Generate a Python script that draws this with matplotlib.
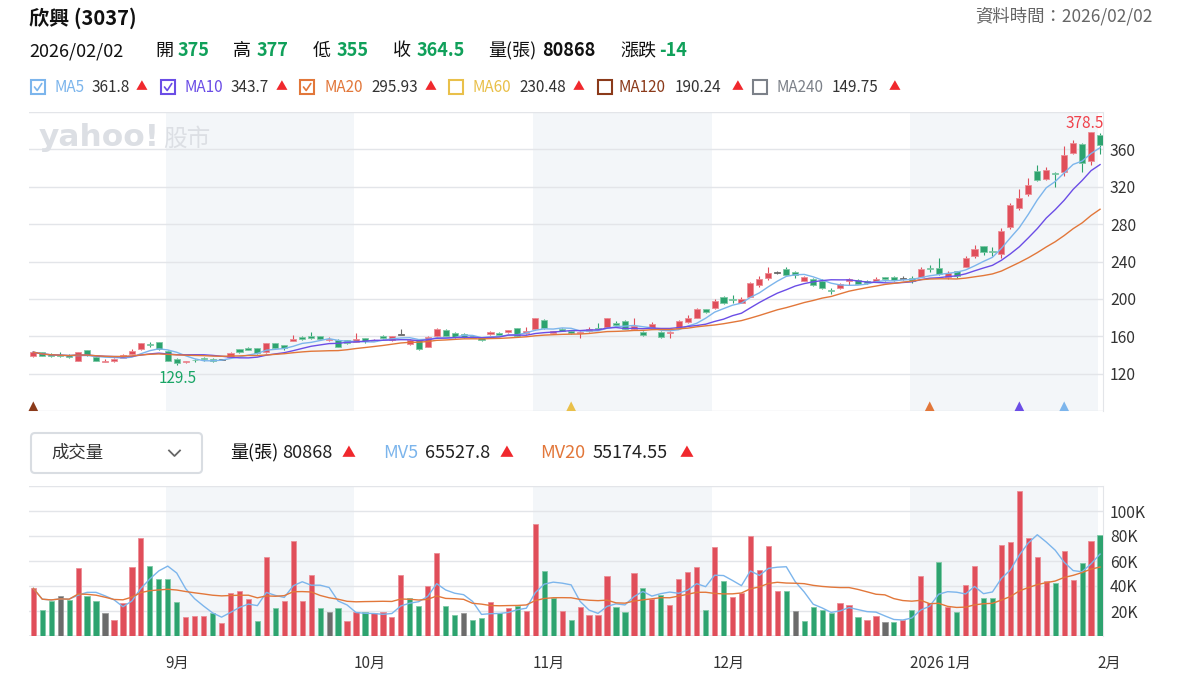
import numpy as np
import pandas as pd
import matplotlib
matplotlib.use("Agg")
import matplotlib.pyplot as plt
from matplotlib.patches import FancyBboxPatch, Rectangle
from matplotlib.transforms import blended_transform_factory

plt.rcParams["font.family"] = ["Noto Sans CJK TC", "DejaVu Sans"]

# ---- daily bars (2025/08/12 .. 2026/02/02) ----
opens = [
    138.5, 143, 141.5, 139.5, 140, 134, 145, 138, 132.5, 133.8,
    137.2, 140.8, 146, 151.5, 153.5, 144.5, 136, 132, 135, 136.5,
    136, 135, 137.5, 146, 147.5, 147, 143, 152.5, 150.5, 155,
    159.5, 159.8, 160, 155.5, 156.5, 156, 154, 158, 154.8, 160.5,
    156, 162, 151.5, 156.5, 148.5, 160, 167, 164, 162, 160.5,
    159, 162.2, 164, 164.3, 168.5, 163.2, 167.5, 177.5, 164, 167.8,
    165.5, 163.5, 165.3, 169, 170.3, 174.6, 176.5, 168, 165, 168.5,
    165, 163.2, 168.5, 175, 179.5, 188.8, 190, 201.5, 199.8, 196,
    202.5, 214.5, 222, 228.5, 231.5, 229, 219.5, 221, 219.5, 209.8,
    211.2, 219.5, 220.5, 219.5, 218.5, 223, 223.5, 221.5, 222.5, 223.6,
    233.2, 233.3, 223, 229.5, 234.3, 246, 256.5, 250.8, 248, 277,
    297, 312, 336.5, 328, 335, 336, 356.5, 366, 347.5, 375,
]
highs = [
    143.5, 143.5, 142, 143.5, 140.5, 143.5, 145.5, 138.5, 135.5, 136.3,
    140.5, 146, 152.5, 153.5, 154, 145, 136.5, 133.8, 135.5, 137.5,
    136.5, 135.5, 143, 146.5, 148.5, 147.5, 153, 153, 151, 161,
    160, 165, 160.5, 159.5, 157, 156.5, 163, 158.5, 157.5, 161.5,
    160.5, 168, 157, 157, 160, 168.5, 167.5, 164.5, 163, 161,
    159.5, 165.5, 164.5, 167, 169, 170, 180, 178, 166, 168.5,
    167, 166, 169.5, 173.9, 180, 176.5, 177.5, 179, 165.5, 175,
    165.5, 165.5, 177.5, 183, 190, 189.5, 200, 203.5, 204, 202.5,
    218, 224.5, 234, 230, 234.5, 230, 224, 222, 221, 212,
    217, 222, 221, 220, 223.5, 223.5, 224, 224, 224, 234,
    236, 244, 229.5, 230, 246, 258, 257, 255.5, 275.5, 302.5,
    318, 329, 343, 341, 336, 363.5, 370, 367, 378.5, 377,
]
lows = [
    138, 138.5, 138, 138, 137, 133.5, 139, 133.5, 132, 132.8,
    137, 140.5, 145.5, 148, 145.5, 133.5, 129.5, 131.5, 132.5, 133.5,
    132.5, 134.5, 137, 142.5, 145, 141.5, 142.5, 146.5, 145.5, 154.5,
    155.5, 157.5, 155.5, 155, 148, 152, 153.5, 152.5, 154.5, 157.5,
    154.5, 162, 150.5, 145.5, 148, 159.5, 160, 158.5, 158, 158,
    155, 161.5, 160.5, 163.5, 159.5, 162.5, 167, 168, 163, 165.5,
    162.5, 157.8, 165, 166.5, 170, 171, 167.5, 167, 160.5, 168,
    158, 158, 168, 174.5, 179, 185, 189.5, 195, 195.5, 195.5,
    202, 213, 220, 227, 225, 222, 219, 213.5, 211, 205.5,
    210.5, 215, 215.5, 216, 218, 219, 219.5, 220, 217.5, 223,
    229, 226, 221, 222, 234, 244, 246.5, 245.5, 244, 275,
    295, 310.5, 326, 327, 319.5, 331, 355, 336, 343, 355,
]
closes = [
    143, 139, 138.5, 138.5, 137.5, 143, 139.5, 134, 134, 136,
    140, 144, 152.3, 150.5, 146, 134, 131.5, 133.5, 134.5, 135.5,
    133.5, 135, 142.5, 143, 145.5, 142, 152.5, 147, 147.5, 157.3,
    157.5, 158, 157, 157, 148.5, 152.5, 157.5, 154.5, 156.5, 158,
    159.8, 162, 156, 146.5, 159.5, 167.5, 160.5, 159, 159, 158.5,
    155.5, 165, 161, 166.7, 160, 165.5, 179, 168.5, 165.5, 166,
    163.5, 165, 167.4, 167.7, 179, 172, 168, 171, 161, 173.5,
    159, 165, 176.5, 180, 188.8, 186, 197.5, 195.5, 198.5, 199.8,
    217, 221.5, 228, 228.5, 225.5, 225.5, 223.5, 215, 211.5, 208.5,
    216, 221.5, 216, 217, 221.5, 221.5, 220, 221.5, 219, 231.5,
    231.6, 226.5, 228, 225, 243.5, 253.5, 250.5, 250, 273, 300,
    308, 321.5, 327, 338, 333.5, 354, 367, 345, 378.5, 364.5,
]
volumes_k = [
    38.1, 20.8, 27.7, 32, 28.8, 54.1, 32, 27.7, 18.1, 13.1,
    26.1, 54.9, 78.1, 56, 45.3, 45.3, 27.2, 15.2, 16, 16,
    18.1, 10.1, 34.1, 36, 29.3, 12, 62.9, 22.1, 28, 76,
    28, 49.1, 22.1, 18.9, 22.1, 12, 18.9, 18.9, 18.1, 18.9,
    15.2, 49.1, 30.1, 24, 40, 66.1, 24, 17.1, 18.1, 13.1,
    14.1, 26.9, 18.1, 22.1, 24, 20, 89.3, 52, 30.1, 20,
    13.1, 23.2, 17.1, 17.1, 48, 23.2, 18.9, 50.1, 38.1, 29.3,
    33.1, 25.1, 45.3, 50.9, 54.9, 21.1, 70.9, 44, 31.2, 34.1,
    80, 53.1, 72, 36, 36, 20, 12, 23.2, 21.1, 18.1,
    26.1, 25.1, 15.2, 13.1, 16, 10.9, 10.9, 13.1, 21.1, 48,
    26.1, 58.9, 23.2, 18.9, 41.1, 56, 30.1, 30.1, 73.1, 74.9,
    116, 78.1, 62.9, 44, 42.1, 68, 44.7, 58.1, 76, 80.868,
]
prev_close = 138.5  # close of the day before the first bar

month_labels = ["9月", "10月", "11月", "12月", "2026 1月", "2月"]
month_first_bar = [15, 36, 56, 76, 98, 119]
shaded_months = ["9月", "11月", "2026 1月"]

stock_name = "欣興 (3037)"
data_date = "2026/02/02"
ma_names = ["MA5", "MA10", "MA20", "MA60", "MA120", "MA240"]
ma_values = ["361.8", "343.7", "295.93", "230.48", "190.24", "149.75"]
ma_shown = ["MA5", "MA10", "MA20"]
mv_names = ["MV5", "MV20"]
mv_values = ["65527.8", "55174.55"]
signal_bars = [0, 60, 100, 110, 115]
signal_ma = ["MA120", "MA60", "MA20", "MA10", "MA5"]

# ---- style ----
RED, GREEN, GRAY = "#e04e5a", "#2da36f", "#6b6b6b"
RED_EDGE, GREEN_EDGE, GRAY_EDGE = "#ec8e96", "#7fcaa7", "#9a9a9a"
UP_TXT, DN_TXT = "#f0282d", "#10a05a"
BAND, GRID = "#f3f6f9", "#e3e5e9"
MARK = "#dcdfe4"
MA_COL = {"MA5": "#7cb5ec", "MA10": "#6b4de6", "MA20": "#e2773a",
          "MA60": "#e9c04a", "MA120": "#8b3a1a", "MA240": "#7c8189"}
MV_COL = {"MV5": "#7cb5ec", "MV20": "#e2773a"}
W, H = 1177, 687
PL, PR = 29, 1103

o = np.array(opens); hi = np.array(highs); lo = np.array(lows)
c = np.array(closes); v = np.array(volumes_k)
n = len(c)
x = np.arange(n)

fig = plt.figure(figsize=(W / 100, H / 100), dpi=100)
fig.patch.set_facecolor("white")

axp = fig.add_axes([PL / W, 1 - 411 / H, (PR - PL) / W, (411 - 112) / H])
axv = fig.add_axes([PL / W, 1 - 636 / H, (PR - PL) / W, (636 - 486) / H])

# overlay in pixel coordinates for header texts and the watermark
ov = fig.add_axes([0, 0, 1, 1], zorder=10)
ov.set_xlim(0, W)
ov.set_ylim(H, 0)
ov.axis("off")

for ax in (axp, axv):
    ax.set_xlim(-0.48, n - 1 + 0.33)
    for k, lab in enumerate(month_labels):
        if lab in shaded_months:
            end = month_first_bar[k + 1] if k + 1 < len(month_first_bar) else n
            ax.axvspan(month_first_bar[k] - 0.25, end - 0.25, color=BAND, lw=0, zorder=0)
    for s in ("top", "left", "bottom"):
        ax.spines[s].set_visible(False)
    ax.spines["right"].set_color(GRID)
    ax.yaxis.tick_right()
    ax.tick_params(axis="y", length=0, pad=5, labelsize=11.3, labelcolor="#333333")
    ax.tick_params(axis="x", length=0, labelbottom=False)
    ax.grid(axis="y", color=GRID, lw=1, zorder=1)
    ax.set_axisbelow(True)

# ---- price panel ----
axp.set_ylim(80, 400)
pticks = list(range(80, 401, 40))
axp.set_yticks(pticks)
axp.set_yticklabels(["" if t in (80, 400) else str(t) for t in pticks])

ccol = np.where(c > o, RED, np.where(c < o, GREEN, GRAY))
cedge = np.where(c > o, RED_EDGE, np.where(c < o, GREEN_EDGE, GRAY))
axp.vlines(x, lo, hi, colors=ccol, lw=0.8, zorder=3)
body_h = np.abs(c - o)
flat = body_h < 0.8
body_b = np.where(flat, c - 0.4, np.minimum(o, c))
body_h = np.where(flat, 0.8, body_h)
axp.bar(x, body_h, bottom=body_b, width=0.68, color=ccol, edgecolor=cedge,
        lw=0.6, zorder=4)

cs = pd.Series(c)
for name in ma_shown:
    w = int(name[2:])
    axp.plot(x, cs.rolling(w, min_periods=1).mean(), color=MA_COL[name],
             lw=1.0, zorder=5)

imax, imin = int(np.argmax(hi)), int(np.argmin(lo))
axp.annotate(f"{hi[imax]:g}", xy=(imax, hi[imax]), xytext=(9, 0),
             textcoords="offset points", ha="right", va="bottom",
             color="#f0414b", fontsize=11)
axp.annotate(f"{lo[imin]:g}", xy=(imin, lo[imin]), xytext=(1, -4),
             textcoords="offset points", ha="center", va="top",
             color="#18a565", fontsize=11)

tr = blended_transform_factory(axp.transData, axp.transAxes)
axp.scatter(signal_bars, [0.016] * len(signal_bars), marker="^", s=48,
            c=[MA_COL[m] for m in signal_ma], transform=tr, clip_on=False,
            zorder=6, linewidths=0)

# ---- volume panel ----
axv.set_ylim(0, 120)
vticks = list(range(0, 121, 20))
axv.set_yticks(vticks)
axv.set_yticklabels(["" if t in (0, 120) else f"{t}K" for t in vticks])
axv.axhline(0, color=GRID, lw=1.2, zorder=1)

pc = np.concatenate([[prev_close], c[:-1]])
vcol = np.where(c > pc, RED, np.where(c < pc, GREEN, GRAY))
vedge = np.where(c > pc, RED_EDGE, np.where(c < pc, GREEN_EDGE, GRAY_EDGE))
axv.bar(x, v, width=0.58, color=vcol, edgecolor=vedge, lw=0.6, zorder=3)
vs = pd.Series(v)
for name in mv_names:
    w = int(name[2:])
    axv.plot(x, vs.rolling(w, min_periods=1).mean(), color=MV_COL[name],
             lw=1.0, zorder=4)

trm = blended_transform_factory(axv.transData, fig.transFigure)
for k, lab in enumerate(month_labels):
    axv.text(month_first_bar[k] - 0.25, 1 - 663 / H, lab, transform=trm,
             ha="left", va="center", fontsize=11, color="#333333")

# ---- watermark ----
ov.text(39, 137, "yahoo!", fontsize=22.5, fontweight="heavy", color=MARK,
        va="center", ha="left", family="DejaVu Sans")
ov.text(163, 139, "股市", fontsize=17, color=MARK, va="center", ha="left")

# ---- header ----
ov.text(29, 18, stock_name, fontsize=14.5, fontweight="bold", va="center",
        color="#111111")
ov.text(1153, 16, "資料時間：" + data_date, fontsize=12.5, va="center",
        ha="right", color="#666666")

last_prev = c[-2]
def pcol(val):
    return UP_TXT if val > last_prev else (DN_TXT if val < last_prev else "#333333")

FS2 = 13
ov.text(29, 51, data_date, fontsize=FS2, va="center", color="#111111")
row = [("開", o[-1], 155, 178), ("高", hi[-1], 233, 257),
       ("低", lo[-1], 313, 337), ("收", c[-1], 393, 417)]
for lab, val, lx, vx in row:
    ov.text(lx, 51, lab, fontsize=FS2, va="center", color="#111111")
    ov.text(vx, 51, f"{val:g}", fontsize=FS2, va="center", color=pcol(val),
            fontweight="bold")
ov.text(488, 51, "量(張)", fontsize=FS2, va="center", color="#111111")
ov.text(542, 51, f"{round(v[-1] * 1000):d}", fontsize=FS2, va="center",
        color="#111111", fontweight="bold")
chg = c[-1] - c[-2]
ov.text(620, 51, "漲跌", fontsize=FS2, va="center", color="#111111")
ov.text(659, 51, f"{chg:g}", fontsize=FS2, va="center", fontweight="bold",
        color=UP_TXT if chg > 0 else DN_TXT)

# MA legend row
leg_x = [(31, 54, 92, 136), (161, 184, 231, 276), (300, 325, 371, 425),
         (449, 473, 519, 573), (598, 619, 675, 732), (753, 776, 832, 889)]
for name, val, (bx, nx, vx, tx) in zip(ma_names, ma_values, leg_x):
    col = MA_COL[name]
    ov.add_patch(Rectangle((bx, 80), 14, 14, facecolor="white", edgecolor=col,
                           lw=1.5))
    if name in ma_shown:
        ov.plot([bx + 3.5, bx + 6.2, bx + 10.8], [87, 90.5, 83.5], color=col,
                lw=1.2, solid_capstyle="round")
    ov.text(nx, 87, name, fontsize=11, va="center", color=col)
    ov.text(vx, 87, val, fontsize=11, va="center", color="#333333")
    ov.text(tx, 87, "▲", fontsize=8.5, va="center", color=UP_TXT)

# volume header
ov.add_patch(FancyBboxPatch((31, 433), 171, 40, boxstyle="round,pad=0,rounding_size=4",
                            facecolor="white", edgecolor="#d9dde2", lw=1.5))
ov.text(51, 453, "成交量", fontsize=12.5, va="center", color="#333333")
ov.plot([169, 174.5, 180], [450.5, 456, 450.5], color="#666666", lw=1.3)
ov.text(230, 453, "量(張)", fontsize=13, va="center", color="#111111")
ov.text(282, 453, f"{round(v[-1] * 1000):d}", fontsize=13, va="center",
        color="#222222")
ov.text(342, 453, "▲", fontsize=10, va="center", color=UP_TXT)
mv_x = [(383, 425, 500), (540, 593, 680)]
for name, val, (nx, vx, tx) in zip(mv_names, mv_values, mv_x):
    ov.text(nx, 453, name, fontsize=13, va="center", color=MV_COL[name])
    ov.text(vx, 453, val, fontsize=13, va="center", color="#222222")
    ov.text(tx, 453, "▲", fontsize=10, va="center", color=UP_TXT)

fig.savefig("out.png", dpi=100)
